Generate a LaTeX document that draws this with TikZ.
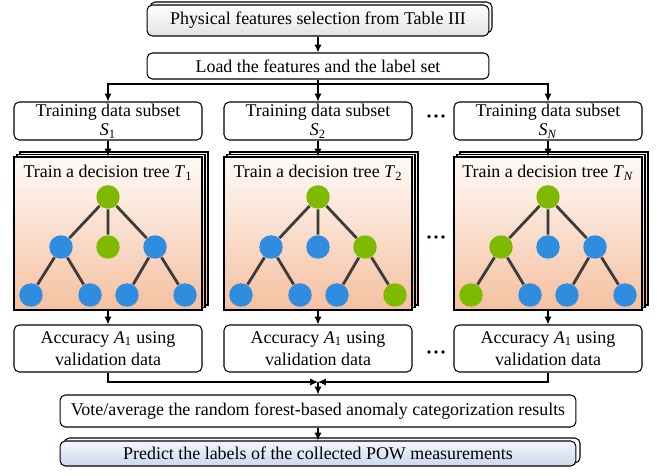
\documentclass[tikz,border=0pt]{standalone}
\usepackage{fontspec}
\setmainfont{Liberation Serif}
\usetikzlibrary{arrows.meta}

\definecolor{leafgreen}{RGB}{126,186,0}
\definecolor{leafblue}{RGB}{47,140,222}
\definecolor{branch}{RGB}{60,60,60}
\definecolor{treetop}{RGB}{254,250,247}
\definecolor{treebot}{RGB}{245,192,160}
\definecolor{predtop}{RGB}{242,246,252}
\definecolor{predbot}{RGB}{205,216,238}

\newcommand{\itsub}[2]{\textit{#1}\textsubscript{#2}}

\tikzset{
    box/.style={draw, rounded corners=3pt, fill=white, align=center, inner sep=1pt},
    arr/.style={-{Latex[length=4.5pt,width=4pt]}},
    sheet/.style={draw, top color=treetop, bottom color=treebot},
    leafg/.style={circle, fill=leafgreen, minimum size=0.47cm, inner sep=0pt},
    leafb/.style={circle, fill=leafblue, minimum size=0.47cm, inner sep=0pt},
    branchline/.style={draw=branch, line width=1.6pt},
}

\begin{document}
\begin{tikzpicture}[x=0.02cm, y=-0.02cm, line width=0.6pt, font=\fontsize{10.2pt}{12pt}\selectfont]
    \useasboundingbox (0,0) rectangle (657,476);

    % feature selection and loading
    \draw[rounded corners=3pt, fill=white] (150,2) rectangle (492,33);
    \node[box, top color=white, bottom color=gray!22, minimum width=6.84cm, minimum height=0.62cm] (select) at (318,20.5) {Physical features selection from Table III};
    \node[box, minimum width=6.84cm, minimum height=0.52cm] (load) at (318,66) {Load the features and the label set};
    \draw[arr] (select) -- (load);
    \coordinate (split) at (318,84);
    \draw (load) -- (split);

    % one column per tree
    \foreach \cx/\n/\s/\ra/\la/\lb/\lc/\ma/\mb/\mc/\md in {
        108/1/1/leafg/leafb/leafg/leafb/leafb/leafb/leafb/leafb,
        318/2/2/leafg/leafb/leafb/leafg/leafb/leafb/leafb/leafg,
        548/3/{\textit{N}}/leafg/leafg/leafb/leafb/leafg/leafb/leafb/leafb}{
        \node[box, minimum width=3.76cm, minimum height=0.76cm, font=\fontsize{10.2pt}{11pt}\selectfont] (sub\n) at (\cx,121) {Training data subset\\\itsub{S}{\s}};
        \draw[arr] (split) -| (sub\n);

        \draw[sheet] ({\cx-88},152) rectangle ({\cx+100},305);
        \draw[sheet] ({\cx-91},154.5) rectangle ({\cx+97},307.5);
        \node[sheet, minimum width=3.76cm, minimum height=3.06cm] (tree\n) at (\cx,233.5) {};
        \node (title\n) at (\cx,173) {Train a decision tree \itsub{T}{\s}};
        \draw[arr] (sub\n) -- (tree\n);

        \node[\ra] (r\n) at (\cx,197) {};
        \node[\la] (a\n) at (\cx-47,247) {};
        \node[\lb] (b\n) at (\cx,247) {};
        \node[\lc] (c\n) at (\cx+47,247) {};
        \node[\ma] (d\n) at (\cx-77,295) {};
        \node[\mb] (e\n) at (\cx-18,295) {};
        \node[\mc] (f\n) at (\cx+19,295) {};
        \node[\md] (g\n) at (\cx+77,295) {};
        \draw[branchline] (r\n) -- (a\n) (r\n) -- (b\n) (r\n) -- (c\n)
            (a\n) -- (d\n) (a\n) -- (e\n) (c\n) -- (f\n) (c\n) -- (g\n);

        \node[box, minimum width=3.76cm, minimum height=0.94cm, font=\fontsize{10.2pt}{12.5pt}\selectfont] (acc\n) at (\cx,348.5) {Accuracy \itsub{A}{1} using\\validation data};
        \draw[arr] (tree\n) -- (acc\n);
    }

    % dots between the second and the last column
    \foreach \y in {116,237,352}
        \foreach \dx in {-7,0,7}
            \fill (436+\dx,\y) circle[radius=1.1pt];

    % combine the trees
    \coordinate (merge) at (318,382);
    \draw[arr] (acc1) |- (merge);
    \draw[arr] (acc3) |- (merge);
    \node[box, minimum width=10.32cm, minimum height=0.64cm] (vote) at (318,411) {Vote/average the random forest-based anomaly categorization results};
    \draw[arr] (merge) -- (vote);
    \draw[rounded corners=3pt, fill=white] (64,438) rectangle (580,463);
    \node[box, top color=predtop, bottom color=predbot, minimum width=10.32cm, minimum height=0.5cm] (predict) at (318,453.5) {Predict the labels of the collected POW measurements};
    \draw[arr] (vote) -- (predict);
\end{tikzpicture}
\end{document}
